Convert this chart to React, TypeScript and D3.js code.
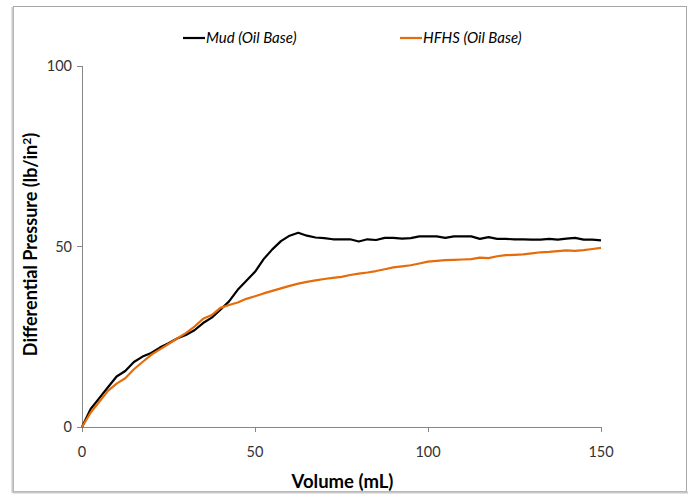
import React from 'react';
import * as d3 from 'd3';

// volume (mL), sampled every 2.5 mL
const volumes = d3.range(0, 150.01, 2.5);

const mudValues = [
  0, 5, 8, 11, 14, 15.5, 18, 19.5, 20.5, 22, 23.2, 24.5, 25.5, 26.8, 28.8, 30.3,
  32.5, 34.8, 38, 40.5, 43, 46.5, 49.2, 51.5, 53, 53.8, 53, 52.5, 52.3, 52, 52,
  52, 51.4, 52, 51.8, 52.4, 52.4, 52.2, 52.3, 52.8, 52.8, 52.8, 52.4, 52.8, 52.8,
  52.8, 52.1, 52.6, 52.1, 52.1, 52, 52, 51.9, 51.9, 52.1, 51.9, 52.2, 52.4, 51.9,
  51.9, 51.7
];

const hfhsValues = [
  0, 4, 7, 10, 12, 13.5, 16, 18, 20, 21.5, 23, 24.5, 26, 27.8, 30, 31, 33, 33.8,
  34.5, 35.5, 36.2, 37, 37.7, 38.4, 39.1, 39.7, 40.2, 40.6, 41, 41.3, 41.6, 42.1,
  42.5, 42.8, 43.2, 43.7, 44.2, 44.5, 44.8, 45.3, 45.8, 46, 46.2, 46.3, 46.4, 46.5,
  46.9, 46.8, 47.3, 47.6, 47.7, 47.8, 48.1, 48.4, 48.5, 48.7, 48.9, 48.8, 49, 49.3,
  49.6
];

const xTicks = [0, 50, 100, 150];
const yTicks = [0, 50, 100];

const series = [
  { name: 'Mud (Oil Base)', values: mudValues, color: '#000000' },
  { name: 'HFHS (Oil Base)', values: hfhsValues, color: '#E46C0A' }
];

const W = 692;
const H = 494;
const plot = { left: 82, right: 601, top: 66, bottom: 427 };
const font = 'Lato, "Open Sans", sans-serif';

export default function App() {
  const x = d3.scaleLinear().domain([0, 150]).range([plot.left, plot.right]);
  const y = d3.scaleLinear().domain([0, 100]).range([plot.bottom, plot.top]);

  const line = d3.line<number>()
    .x((_, i) => x(volumes[i]))
    .y(d => y(d));

  const legendX = [183, 400];

  return (
    <svg width={W} height={H} style={{ position: 'absolute', left: 0, top: 0 }}>
      <rect x={0} y={0} width={W} height={H} fill="#fff" />
      {/* chart frame */}
      <rect x={13.5} y={6.5} width={673} height={485} fill="none" stroke="#a6a6a6" strokeWidth={1} />
      <line x1={12.5} y1={7} x2={12.5} y2={493} stroke="#c8c8c8" strokeWidth={2} />
      <line x1={13} y1={492.5} x2={688} y2={492.5} stroke="#c8c8c8" strokeWidth={2} />

      {/* axes */}
      <g stroke="#868686" strokeWidth={1} shapeRendering="crispEdges">
        <line x1={plot.left} y1={plot.top} x2={plot.left} y2={plot.bottom} />
        <line x1={plot.left} y1={plot.bottom} x2={plot.right} y2={plot.bottom} />
        {yTicks.map(t => (
          <line key={'yt' + t} x1={plot.left - 5} x2={plot.left} y1={y(t)} y2={y(t)} />
        ))}
        {xTicks.map(t => (
          <line key={'xt' + t} x1={x(t)} x2={x(t)} y1={plot.bottom} y2={plot.bottom + 5} />
        ))}
      </g>

      <g fontFamily={font} fontSize={14.5} fill="#333">
        {yTicks.map(t => (
          <text key={'yl' + t} x={plot.left - 10} y={y(t)} dy="0.35em" textAnchor="end">{t}</text>
        ))}
        {xTicks.map(t => (
          <text key={'xl' + t} x={x(t)} y={plot.bottom + 30} textAnchor="middle">{t}</text>
        ))}
      </g>

      {/* axis titles */}
      <text x={(plot.left + plot.right) / 2 + 1} y={488} textAnchor="middle" fontFamily={font}
        fontSize={18.5} fontWeight="bold" fill="#000">Volume (mL)</text>
      <text transform={`translate(37, ${(plot.top + plot.bottom) / 2 - 2}) rotate(-90)`} textAnchor="middle"
        fontFamily={font} fontSize={18} fontWeight="bold" fill="#000">
        Differential Pressure (lb/in<tspan dy="-6" fontSize={12}>2</tspan><tspan dy="6">)</tspan>
      </text>

      {/* series */}
      {series.map(s => (
        <path key={s.name} d={line(s.values) || ''} fill="none" stroke={s.color}
          strokeWidth={2.2} strokeLinejoin="round" />
      ))}

      {/* legend */}
      {series.map((s, i) => (
        <g key={'lg' + s.name}>
          <line x1={legendX[i]} x2={legendX[i] + 22} y1={38} y2={38} stroke={s.color} strokeWidth={2.2} />
          <text x={legendX[i] + 23} y={38} dy="0.35em" fontFamily={font} fontSize={15}
            fontStyle="italic" fill="#000">{s.name}</text>
        </g>
      ))}
    </svg>
  );
}
